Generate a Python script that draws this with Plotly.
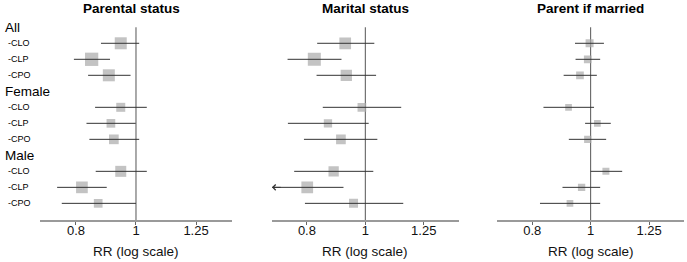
import math
import plotly.graph_objects as go

# ---------------- data ----------------
groups = ["All", "Female", "Male"]
outcomes = ["-CLO", "-CLP", "-CPO"]
panel_titles = ["Parental status", "Marital status", "Parent if married"]
tick_vals = [0.8, 1, 1.25]
tick_text = ["0.8", "1", "1.25"]
x_title = "RR (log scale)"

# order: All CLO/CLP/CPO, Female CLO/CLP/CPO, Male CLO/CLP/CPO
parental_rr = [0.945, 0.848, 0.904, 0.945, 0.911, 0.921, 0.945, 0.818, 0.869]
parental_lo = [0.878, 0.794, 0.837, 0.859, 0.832, 0.841, 0.861, 0.746, 0.759]
parental_hi = [1.012, 0.908, 0.980, 1.041, 0.999, 1.012, 1.041, 0.897, 1.000]
parental_wt = [12, 13.3, 12, 9, 8.7, 9.7, 11, 11.7, 8.7]

marital_rr = [0.926, 0.823, 0.930, 0.987, 0.867, 0.911, 0.886, 0.801, 0.956]
marital_lo = [0.832, 0.743, 0.830, 0.850, 0.744, 0.791, 0.762, 0.680, 0.794]
marital_hi = [1.035, 0.913, 1.042, 1.147, 1.013, 1.047, 1.031, 0.920, 1.156]
marital_wt = [11.7, 13, 11.3, 8.7, 8.3, 9.7, 10.3, 11.7, 9]

married_rr = [0.996, 0.989, 0.960, 0.919, 1.026, 0.989, 1.060, 0.966, 0.924]
married_lo = [0.942, 0.944, 0.902, 0.835, 0.979, 0.920, 1.000, 0.898, 0.824]
married_hi = [1.052, 1.037, 1.024, 1.013, 1.080, 1.061, 1.128, 1.037, 1.037]
married_wt = [8, 7.7, 7.7, 6.7, 6.7, 7.3, 7, 7.3, 6.7]

panels = [
    (parental_rr, parental_lo, parental_hi, parental_wt),
    (marital_rr, marital_lo, marital_hi, marital_wt),
    (married_rr, married_lo, married_hi, married_wt),
]

# ---------------- layout constants ----------------
X_MIN, X_MAX = 0.7, 1 / 0.7
FONT = "Arial, Liberation Sans, sans-serif"
SQ_COLOR = "#a9a9a9"
LINE_COLOR = "#333333"
AXIS_COLOR = "#9a9a9a"

# category rows (top to bottom)
row_keys = []
row_labels = []
row_is_header = []
for g in groups:
    row_keys.append(g)
    row_labels.append(g)
    row_is_header.append(True)
    for o in outcomes:
        row_keys.append(g + " " + o)
        row_labels.append(o)
        row_is_header.append(False)

item_keys = [g + " " + o for g in groups for o in outcomes]

Y_RANGE = [len(row_keys) + 0.04, -0.58]

domains = [[0.0, 0.2981], [0.3602, 0.6501], [0.7101, 1.0]]
title_x = [131.7, 365.5, 590.7]  # pixel centres
PLOT_L, PLOT_W, PLOT_T, PLOT_H = 40, 644, 18, 202

fig = go.Figure()
annotations = []
shapes = []

for p, (rr, lo, hi, wt) in enumerate(panels):
    xa = "x" if p == 0 else "x%d" % (p + 1)
    # squares
    fig.add_trace(go.Scatter(
        x=rr, y=item_keys, mode="markers", xaxis=xa, yaxis="y",
        marker=dict(symbol="square", size=wt, color=SQ_COLOR, line=dict(width=0)),
        showlegend=False, hoverinfo="skip", cliponaxis=True,
    ))
    # CI lines
    lx, ly = [], []
    for k, a, b in zip(item_keys, lo, hi):
        lx += [max(a, X_MIN), min(b, X_MAX), None]
        ly += [k, k, None]
    fig.add_trace(go.Scatter(
        x=lx, y=ly, mode="lines", xaxis=xa, yaxis="y",
        line=dict(color=LINE_COLOR, width=1),
        showlegend=False, hoverinfo="skip",
    ))
    # arrows for truncated intervals
    for k, a in zip(item_keys, lo):
        if a < X_MIN:
            annotations.append(dict(
                x=math.log10(X_MIN), y=k, xref=xa, yref="y",
                ax=math.log10(X_MIN * 1.04), ay=k, axref=xa, ayref="y",
                text="", showarrow=True, arrowhead=4, arrowsize=1.1,
                arrowwidth=1, arrowcolor=LINE_COLOR, standoff=0,
            ))
    # reference line at 1
    shapes.append(dict(
        type="line", xref=xa, yref="y", x0=1, x1=1, y0=0, y1=Y_RANGE[0],
        line=dict(color="#555555", width=1), layer="below",
    ))
    # panel title
    annotations.append(dict(
        x=(title_x[p] - PLOT_L) / PLOT_W, y=1 + (PLOT_T - 8.5) / PLOT_H,
        xref="paper", yref="paper",
        yanchor="middle", xanchor="center", showarrow=False,
        text="<b>%s</b>" % panel_titles[p],
        font=dict(family=FONT, size=13.5, color="#000000"),
    ))
    axis = dict(
        type="log", range=[math.log10(X_MIN), math.log10(X_MAX)],
        domain=domains[p], anchor="y",
        tickvals=tick_vals, ticktext=tick_text,
        ticks="outside", ticklen=3, tickcolor="#666666", tickwidth=1,
        ticklabelstandoff=-6,
        showline=True, linecolor=AXIS_COLOR, linewidth=2,
        showgrid=False, zeroline=False,
        tickfont=dict(family=FONT, size=13, color="#111111"),
        fixedrange=True,
    )
    fig.layout["xaxis" if p == 0 else "xaxis%d" % (p + 1)] = axis
    # axis title as annotation (centred on panel)
    dom = domains[p]
    annotations.append(dict(
        x=(dom[0] + dom[1]) / 2, y=-(251.7 - PLOT_T - PLOT_H) / PLOT_H,
        xref="paper", yref="paper", xanchor="center", yanchor="middle",
        showarrow=False, text=x_title,
        font=dict(family=FONT, size=13.5, color="#111111"),
    ))

# row labels
for key, lab, hdr in zip(row_keys, row_labels, row_is_header):
    annotations.append(dict(
        x=((3 if hdr else 6) - PLOT_L) / PLOT_W, y=key, xref="paper", yref="y",
        xanchor="left", yanchor="middle", showarrow=False, text=lab,
        font=dict(family=FONT, size=13.5 if hdr else 9, color="#000000"),
    ))

fig.update_layout(
    width=687, height=262,
    margin=dict(l=PLOT_L, r=687 - PLOT_L - PLOT_W, t=PLOT_T, b=262 - PLOT_T - PLOT_H),
    paper_bgcolor="white", plot_bgcolor="white",
    yaxis=dict(type="category", categoryarray=row_keys, categoryorder="array",
               range=Y_RANGE, showline=False, showgrid=False, zeroline=False,
               showticklabels=False, ticks="", fixedrange=True),
    annotations=annotations, shapes=shapes,
    showlegend=False,
    hovermode=False,
)

fig.write_html("out.html", config={"displayModeBar": False},
               post_script="document.body.style.margin='0';")
